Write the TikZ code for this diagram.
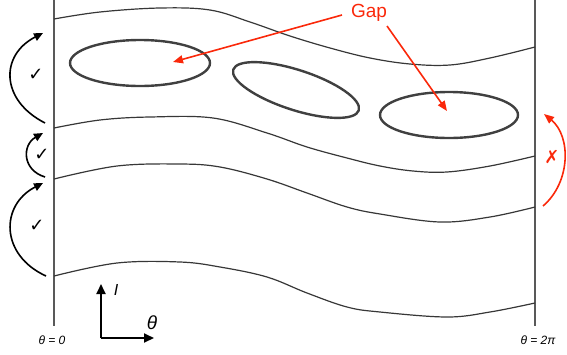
\documentclass[tikz,border=0pt]{standalone}
\usepackage{fontspec}
\setmainfont{Liberation Sans}
\newfontfamily\symfont{DejaVu Sans}
\usetikzlibrary{arrows.meta}
\definecolor{gapred}{RGB}{250,40,10}
\definecolor{linegray}{RGB}{55,55,55}
\begin{document}
\begin{tikzpicture}[x=1pt,y=-1pt,
  wave/.style={linegray,line width=1.2pt},
  border/.style={black!65,line width=1.4pt},
  hole/.style={black!75,line width=2.4pt},
  okarrow/.style={line width=1.6pt,-{Triangle[length=9pt,width=8pt]}},
  redarrow/.style={gapred,line width=1.6pt,-{Triangle[length=10pt,width=8pt]}},
  axisarrow/.style={line width=1.8pt,-{Triangle[length=10pt,width=9pt]}},
  checkmk/.style={font=\symfont\fontsize{18}{20}\selectfont},
  crossmk/.style={text=gapred,font=\symfont\fontsize{18}{20}\selectfont},
  anglelbl/.style={font=\itshape\fontsize{12}{14}\selectfont},
  axislbl/.style={font=\itshape\fontsize{16}{18}\selectfont}
]
\useasboundingbox (0,0) rectangle (567,354);

% boundaries theta = 0 and theta = 2pi
\coordinate (L0) at (54,0);
\coordinate (L1) at (54,326);
\coordinate (R0) at (535,0);
\coordinate (R1) at (535,326);
\draw[border] (L0) -- (L1);
\draw[border] (R0) -- (R1);

% level curves
\draw[wave] plot[smooth,tension=0.6] coordinates {(54,19) (100,12) (160,8) (210,10) (250,22) (290,36) (330,48) (370,58) (410,64) (450,65) (490,58) (535,47)};
\draw[wave] plot[smooth,tension=0.6] coordinates {(54,128) (100,120) (150,117) (213,118) (267,133) (307,147) (347,158) (380,166) (413,171) (447,172) (490,166) (535,156)};
\draw[wave] plot[smooth,tension=0.6] coordinates {(54,179) (117,166) (180,164) (220,167) (267,179) (307,193) (347,207) (380,214) (440,222) (490,217) (535,207)};
\draw[wave] plot[smooth,tension=0.6] coordinates {(54,276) (117,263) (180,262) (220,267) (267,277) (307,293) (347,307) (380,312) (447,317) (490,312) (535,303)};

% islands (gaps)
\coordinate (E1) at (140,63);
\coordinate (E2) at (296,90);
\coordinate (E3) at (449,115);
\draw[hole] (E1) ellipse [x radius=70, y radius=23];
\draw[hole, rotate around={-18:(E2)}] (E2) ellipse [x radius=66, y radius=20];
\draw[hole] (E3) ellipse [x radius=69, y radius=23];

% Gap label and arrows
\node[text=gapred, font=\fontsize{19}{22}\selectfont] (gap) at (369,13) {Gap};
\coordinate (g1) at (342,15);
\coordinate (g2) at (387,26);
\coordinate (t1) at (173,62);
\coordinate (t2) at (447,111);
\draw[redarrow] (g1) -- (t1);
\draw[redarrow] (g2) -- (t2);

% left arrows with checks
\coordinate (a0) at (45,123);
\coordinate (a1) at (43,33);
\coordinate (b0) at (45,177);
\coordinate (b1) at (43,133);
\coordinate (c0) at (46,276);
\coordinate (c1) at (43,183);
\draw[okarrow] (a0) .. controls (0,100) and (0,55) .. (a1);
\draw[okarrow] (b0) .. controls (22,170) and (22,145) .. (b1);
\draw[okarrow] (c0) .. controls (0,255) and (0,205) .. (c1);
\node[checkmk] (ck1) at (36,75) {✓};
\node[checkmk] (ck2) at (42,155) {✓};
\node[checkmk] (ck3) at (37,226) {✓};

% right red arrow with cross
\coordinate (r0) at (543,206);
\coordinate (r1) at (544,114);
\draw[redarrow] (r0) .. controls (571,182) and (571,136) .. (r1);
\node[crossmk] (cr) at (552,157) {✗};

% axes
\coordinate (O) at (101,338);
\coordinate (Iy) at (101,284);
\coordinate (Tx) at (154,338);
\draw[axisarrow] (O) -- (Iy);
\draw[axisarrow] (O) -- (Tx);
\node[axislbl] (Ilbl) at (116,290) {I};
\node[axislbl, font=\itshape\fontsize{19}{21}\selectfont] (Tlbl) at (152,323) {θ};

\node[anglelbl] (th0) at (52,340) {θ = 0};
\node[anglelbl] (th2) at (538,340) {θ = 2π};
\end{tikzpicture}
\end{document}
